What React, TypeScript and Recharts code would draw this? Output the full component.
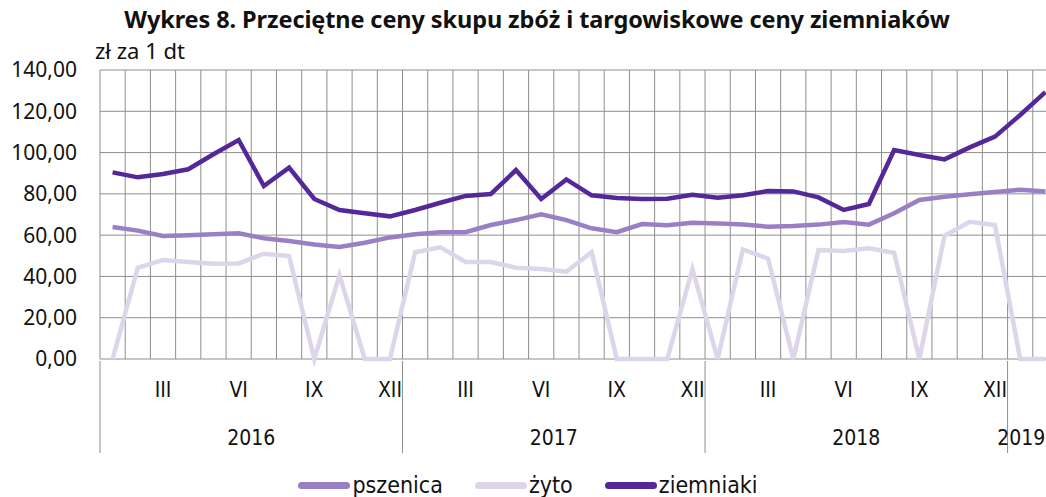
import React from "react";
import { CartesianGrid, Legend, Line, LineChart, XAxis, YAxis } from "recharts";

const years = [2016, 2017, 2018, 2019];
const monthNames = ['I', 'II', 'III', 'IV', 'V', 'VI', 'VII', 'VIII', 'IX', 'X', 'XI', 'XII'];
const shownMonths = ['III', 'VI', 'IX', 'XII'];

// I 2016 .. II 2019
const pszenica = [
  63.9, 62.2, 59.6, 59.9, 60.4, 60.9, 58.5, 57.2, 55.5, 54.3, 56.3, 58.9,
  60.4, 61.4, 61.4, 64.9, 67.3, 70.1, 67.3, 63.3, 61.4, 65.4, 64.8, 66.0,
  65.7, 65.1, 64.1, 64.4, 65.1, 66.4, 65.1, 70.6, 77.0, 78.6, 79.8, 80.9,
  82.0, 81.2,
];
const zyto = [
  0, 44.2, 48.0, 47.0, 46.2, 46.3, 51.0, 49.9, 0, 40.7, 0, 0,
  51.7, 54.1, 47.0, 47.0, 44.2, 43.6, 42.3, 51.8, 0, 0, 0, 43.6,
  0, 53.1, 48.6, 0, 52.8, 52.3, 53.6, 51.5, 0, 59.7, 66.5, 64.9,
  0, 0,
];
const ziemniaki = [
  90.4, 88.0, 89.6, 91.9, 99.2, 106.1, 83.8, 92.7, 77.5, 72.2, 70.6, 69.1,
  72.2, 75.7, 79.0, 79.9, 91.5, 77.5, 87.0, 79.3, 78.0, 77.5, 77.6, 79.6,
  78.1, 79.3, 81.4, 81.2, 78.3, 72.2, 75.1, 101.2, 98.8, 96.7, 102.5, 107.7,
  118.2, 129.3,
];
const yTicks = [0, 20, 40, 60, 80, 100, 120, 140];

const categories = years
  .flatMap((y) => monthNames.map((m) => ({ year: y, month: m })))
  .slice(0, pszenica.length);

const data = categories.map((c, i) => ({
  key: `${c.month} ${c.year}`,
  year: c.year,
  month: c.month,
  pszenica: pszenica[i],
  zyto: zyto[i],
  ziemniaki: ziemniaki[i],
}));

const series = [
  { key: 'pszenica', name: 'pszenica', color: '#9a7fc4' },
  { key: 'zyto', name: 'żyto', color: '#ddd5ea' },
  { key: 'ziemniaki', name: 'ziemniaki', color: '#55289a' },
];

const CHART_W = 1060;
const MARGIN = { top: 70, right: 2, left: 0, bottom: 0 };
const Y_W = 100;
const BAND = (CHART_W - Y_W - MARGIN.left - MARGIN.right) / data.length;
const narrow = "'Liberation Sans Narrow', 'DejaVu Sans Condensed', 'Roboto Condensed', sans-serif";
const gridColor = '#8e8e8e';

function MonthTick(props: any) {
  const { x, y, payload } = props;
  const d = data[payload.index];
  if (!d) return null;
  const mIdx = monthNames.indexOf(d.month);
  const parts: React.ReactNode[] = [];
  if (shownMonths.includes(d.month)) {
    parts.push(
      <text key="m" x={x} y={y + 36} textAnchor="middle" fontSize={21} fill="#111" fontFamily={narrow}>
        {d.month}
      </text>
    );
  }
  if (mIdx === 0) {
    parts.push(
      <line key="s" x1={x - BAND / 2} x2={x - BAND / 2} y1={y} y2={y + 92} stroke={gridColor} strokeWidth={1} />
    );
    const count = data.filter((r) => r.year === d.year).length;
    const cx = count === 12 ? x - BAND / 2 + 6 * BAND : x + 1;
    parts.push(
      <text key="y" x={cx} y={y + 84} textAnchor="middle" fontSize={21} fill="#111" fontFamily={narrow}>
        {d.year}
      </text>
    );
  }
  return <g>{parts}</g>;
}

function renderLegend() {
  return (
    <div style={{ display: 'flex', justifyContent: 'center', alignItems: 'center', paddingLeft: 30, paddingTop: 14, height: 24 }}>
      {series.map((s) => (
        <div key={s.key} style={{ display: 'flex', alignItems: 'center', marginRight: 32, lineHeight: '24px' }}>
          <span style={{ display: 'inline-block', width: 52, height: 7, borderRadius: 4, background: s.color, marginRight: 2 }} />
          <span style={{ fontFamily: narrow, fontSize: 23, color: '#111' }}>{s.name}</span>
        </div>
      ))}
    </div>
  );
}

export default function App() {
  return (
    <div style={{ position: 'fixed', left: 0, top: 0, width: 1046, height: 497, overflow: 'hidden', background: '#fff' }}>
      <div style={{ position: 'absolute', top: 4, left: 0, width: 1074, textAlign: 'center', fontFamily: "'Noto Sans', sans-serif", fontWeight: 700, fontSize: 23.5, color: '#111', lineHeight: '30px', letterSpacing: -0.1 }}>
        Wykres 8. Przeciętne ceny skupu zbóż i targowiskowe ceny ziemniaków
      </div>
      <div style={{ position: 'absolute', top: 35, left: 95, fontFamily: "'Noto Sans', sans-serif", fontSize: 22, color: '#111', lineHeight: '30px' }}>
        zł za 1 dt
      </div>
      <LineChart width={CHART_W} height={497} data={data} margin={MARGIN}>
        <CartesianGrid
          stroke={gridColor}
          strokeWidth={1}
          verticalCoordinatesGenerator={({ offset }: any) =>
            Array.from({ length: data.length + 1 }, (_, k) => offset.left + (k * offset.width) / data.length)
          }
        />
        <XAxis
          dataKey="key"
          scale="band"
          interval={0}
          height={100}
          tickLine={false}
          axisLine={false}
          tickSize={0}
          tick={<MonthTick />}
        />
        <YAxis
          width={Y_W}
          domain={[0, 140]}
          ticks={yTicks}
          interval={0}
          tickLine={false}
          axisLine={false}
          tickSize={0}
          tickMargin={23}
          tickFormatter={(v: number) => v.toFixed(2).replace('.', ',')}
          tick={{ fontSize: 21, fill: '#111', fontFamily: "'Noto Sans', sans-serif" }}
        />
        {series.map((s) => (
          <Line
            key={s.key}
            dataKey={s.key}
            name={s.name}
            stroke={s.color}
            strokeWidth={4.5}
            dot={false}
            isAnimationActive={false}
            strokeLinejoin="miter"
          />
        ))}
        <Legend verticalAlign="bottom" content={renderLegend} />
      </LineChart>
    </div>
  );
}
